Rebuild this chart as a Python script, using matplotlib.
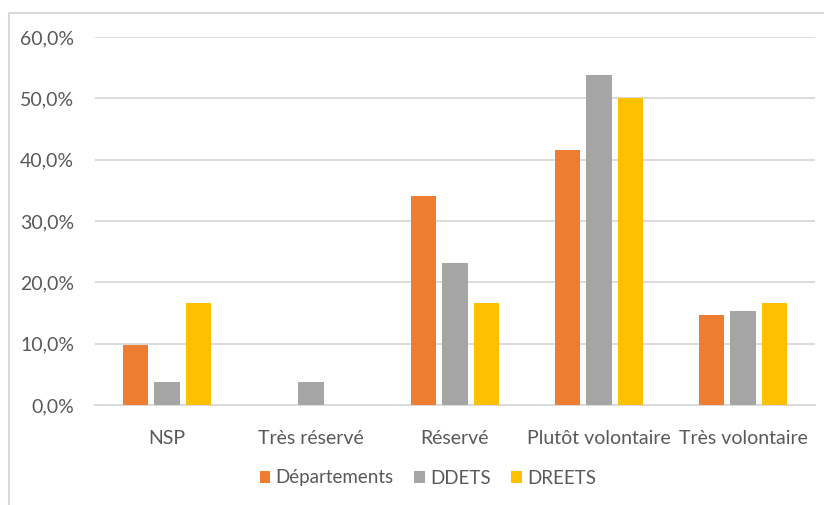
import matplotlib
matplotlib.use("Agg")
import matplotlib.pyplot as plt
import numpy as np
from matplotlib.lines import Line2D
from matplotlib.ticker import FuncFormatter

plt.rcParams['font.family'] = ['Lato', 'DejaVu Sans']

categories = ["NSP", "Très réservé", "Réservé", "Plutôt volontaire", "Très volontaire"]
departements = [9.8, 0.0, 34.1, 41.5, 14.6]
ddets = [3.8, 3.8, 23.1, 53.8, 15.4]
dreets = [16.7, 0.0, 16.7, 50.0, 16.7]

series = [("Départements", departements, "#ED7D31"),
          ("DDETS", ddets, "#A5A5A5"),
          ("DREETS", dreets, "#FFC000")]

W, H = 824, 505
fig = plt.figure(figsize=(W / 100, H / 100), dpi=100)
ax = fig.add_axes([95 / W, 1 - 405 / H, 720 / W, 368 / H])

x = np.arange(len(categories))
bw = 0.174
step = 0.222
for i, (name, vals, col) in enumerate(series):
    ax.bar(x + (i - 1) * step, vals, width=bw, color=col, label=name, zorder=3)

ax.set_xlim(-0.5, len(categories) - 0.5)
ax.set_ylim(0, 60)
ax.set_yticks(np.arange(0, 61, 10))
ax.yaxis.set_major_formatter(FuncFormatter(lambda v, p: f"{v:.1f}%".replace(".", ",")))
ax.set_xticks(x)
ax.set_xticklabels(categories)

txt = "#595959"
fs = 14
ax.tick_params(axis='y', length=0, pad=15, labelsize=fs, labelcolor=txt)
ax.tick_params(axis='x', length=0, pad=18, labelsize=fs, labelcolor=txt)
ax.grid(axis='y', color="#D9D9D9", linewidth=1.3, zorder=0)
for s in ['top', 'right', 'left']:
    ax.spines[s].set_visible(False)
ax.spines['bottom'].set_color("#D9D9D9")
ax.spines['bottom'].set_linewidth(1.3)

leg = ax.legend(loc='center', bbox_to_anchor=(428 / W, (H - 478) / H), bbox_transform=fig.transFigure,
                ncol=3, frameon=False, fontsize=13.5, handlelength=0.55, handleheight=0.55,
                handletextpad=0.3, columnspacing=1.1, labelcolor=txt)

# outer chart frame
frame_col = "#D9D9D9"
fig.add_artist(Line2D([8.5 / W, 8.5 / W, 1.0], [0.0, 1 - 12.5 / H, 1 - 12.5 / H],
                      transform=fig.transFigure, color=frame_col, linewidth=1.5))

fig.savefig("out.png", dpi=100)
